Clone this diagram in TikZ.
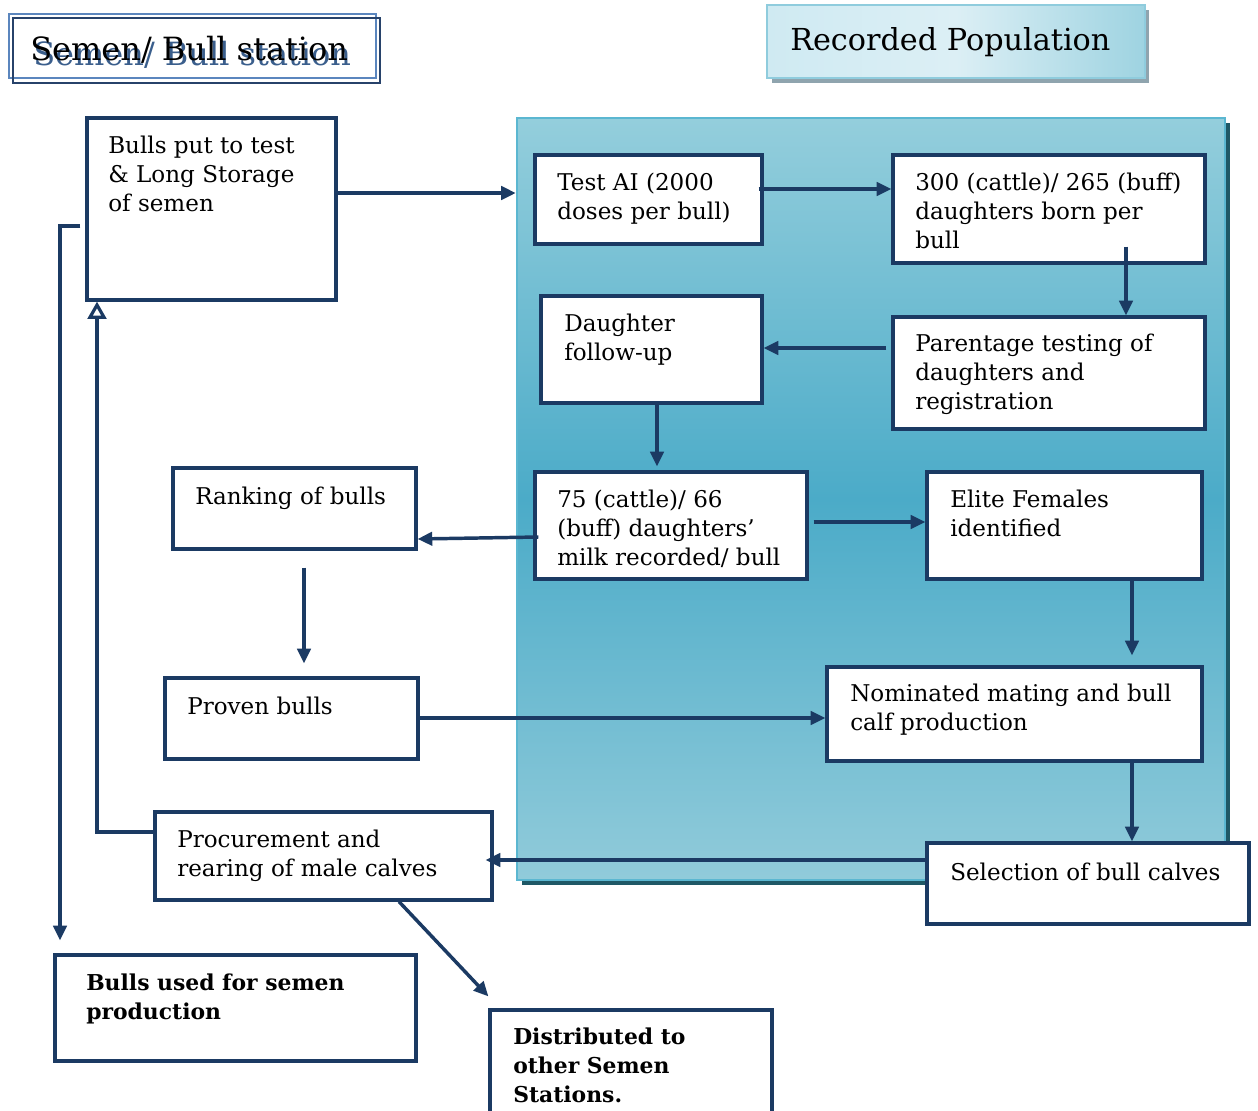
\documentclass[tikz,border=0pt]{standalone}
\usepackage{fontspec}
\setmainfont{DejaVu Serif}
\usetikzlibrary{arrows.meta,fit,calc}
\definecolor{navy}{HTML}{1B3A63}
\definecolor{pantop}{HTML}{94CEDC}
\definecolor{panmid}{HTML}{4BABC8}
\definecolor{panbot}{HTML}{91CBDA}
\definecolor{panedge}{HTML}{5BB7D1}
\definecolor{panshadow}{HTML}{1F5866}
\definecolor{rpleft}{HTML}{CFEAF2}
\definecolor{rpright}{HTML}{9ED3E1}
\definecolor{rpmid}{HTML}{DCEFF5}
\definecolor{rpedge}{HTML}{8FCCDD}
\definecolor{rpshadow}{HTML}{8FA4AE}
\definecolor{sbouter}{HTML}{5B86BE}
\definecolor{sbinner}{HTML}{27426A}
\definecolor{sbshadow}{HTML}{3A5E8C}
\tikzset{
  box/.style={draw=navy,line width=2.4pt,fill=white,inner sep=0pt},
  txt/.style={anchor=north west,align=left,inner sep=0pt,font=\fontsize{17.3}{21.5}\selectfont},
  btxt/.style={anchor=north west,align=left,inner sep=0pt,font=\fontsize{16.4}{21.5}\selectfont\bfseries},
  connector/.style={draw=navy,line width=2.6pt,-{Triangle[length=11pt,width=10pt]}},
  openconnector/.style={draw=navy,line width=2.6pt,-{Triangle[open,length=13pt,width=14pt,line width=2.4pt]}},
}
\begin{document}
\begin{tikzpicture}[x=0.75pt,y=-0.75pt]
\useasboundingbox (0,0) rectangle (1258,1111);

% Semen / Bull station heading
\node[draw=sbouter,line width=1.6pt,fit={(9,14) (376,78)},inner sep=0pt] (sbo) {};
\node[draw=sbinner,line width=1.6pt,fit={(13,18) (380,83)},inner sep=0pt] (sbi) {};
\node[anchor=base west,inner sep=0pt,font=\fontsize{24}{26}\selectfont,text=sbshadow] (sbts) at (33,65) {Semen/ Bull station};
\node[anchor=base west,inner sep=0pt,font=\fontsize{24}{26}\selectfont] (sbt) at (30,60) {Semen/ Bull station};

% Recorded Population heading
\fill[rpshadow] (772,10) rectangle (1149,83);
\node[draw=rpedge,line width=1.6pt,left color=rpleft,right color=rpright,middle color=rpmid,fit={(767,5) (1145,78)},inner sep=0pt] (rp) {};
\node[anchor=base west,inner sep=0pt,font=\fontsize{22.7}{26}\selectfont] (rpt) at (790,50) {Recorded Population};

% Big panel
\fill[panshadow] (522,123) rectangle (1230,885);
\node[draw=panedge,line width=1.8pt,top color=pantop,bottom color=panbot,middle color=panmid,fit={(517,118) (1225,880)},inner sep=0pt] (panel) {};

% Boxes
\node[box,fit={(87,118) (336,300)}] (A) {};
\node[box,fit={(535,155) (762,244)}] (B) {};
\node[box,fit={(893,155) (1205,263)}] (C) {};
\node[box,fit={(541,296) (762,403)}] (D) {};
\node[box,fit={(893,317) (1205,429)}] (E) {};
\node[box,fit={(535,472) (807,579)}] (F) {};
\node[box,fit={(927,472) (1202,579)}] (G) {};
\node[box,fit={(173,468) (416,549)}] (H) {};
\node[box,fit={(165,678) (418,759)}] (I) {};
\node[box,fit={(827,667) (1202,761)}] (J) {};
\node[box,fit={(927,843) (1249,924)}] (K) {};
\node[box,fit={(155,812) (492,900)}] (L) {};
\node[box,fit={(55,955) (416,1061)}] (M) {};
\node[box,fit={(490,1010) (772,1130)}] (N) {};

% Texts
\node[txt] (At) at (108,136) {Bulls put to test\\\& Long Storage\\of semen};
\node[txt] (Bt) at (557,173) {Test AI (2000\\doses per bull)};
\node[txt] (Ct) at (915,173) {300 (cattle)/ 265 (buff)\\daughters born per\\bull};
\node[txt] (Dt) at (564,314) {Daughter\\follow-up};
\node[txt] (Et) at (915,334) {Parentage testing of\\daughters and\\registration};
\node[txt] (Ft) at (557,490) {75 (cattle)/ 66\\(buff) daughters’\\milk recorded/ bull};
\node[txt] (Gt) at (950,490) {Elite Females\\identified};
\node[txt] (Ht) at (195,487) {Ranking of bulls};
\node[txt] (It) at (187,697) {Proven bulls};
\node[txt] (Jt) at (850,684) {Nominated mating and bull\\calf production};
\node[txt] (Kt) at (950,863) {Selection of bull calves};
\node[txt] (Lt) at (177,830) {Procurement and\\rearing of male calves};
\node[btxt] (Mt) at (86,974) {Bulls used for semen\\production};
\node[btxt] (Nt) at (513,1028) {Distributed to\\other Semen\\Stations.};

% Connectors
\draw[connector] (A.east |- 0,193) -- (panel.west |- 0,193);
\draw[connector] ($(B.east |- 0,189)+(-5,0)$) -- (C.west |- 0,189);
\draw[connector] ($(C.south -| 1126,0)+(0,-18)$) -- (E.north -| 1126,0);
\draw[connector] ($(E.west |- 0,348)+(-5,0)$) -- (D.east |- 0,348);
\draw[connector] (D.south -| 657,0) -- ($(F.north -| 657,0)+(0,-4)$);
\draw[connector] ($(F.west |- 0,537)+(5,0)$) -- (H.east |- 0,539);
\draw[connector] ($(F.east |- 0,522)+(5,0)$) -- (G.west |- 0,522);
\draw[connector] (G.south -| 1132,0) -- ($(J.north -| 1132,0)+(0,-10)$);
\draw[connector] ($(H.south -| 304,0)+(0,17)$) -- ($(I.north -| 304,0)+(0,-13)$);
\draw[connector] (I.east |- 0,718) -- (J.west |- 0,718);
\draw[connector] (J.south -| 1132,0) -- (K.north -| 1132,0);
\draw[connector] (K.west |- 0,860) -- ($(L.east |- 0,860)+(-8,0)$);
\draw[openconnector] (L.west |- 0,832) -| (A.south -| 97,0);
\draw[connector] ($(A.west |- 0,226)+(-5,0)$) -| ($(M.north -| 60,0)+(0,-13)$);
\draw[connector] (L.south -| 399,0) -- ($(N.north west)+(0,-12)$);
\end{tikzpicture}
\end{document}
